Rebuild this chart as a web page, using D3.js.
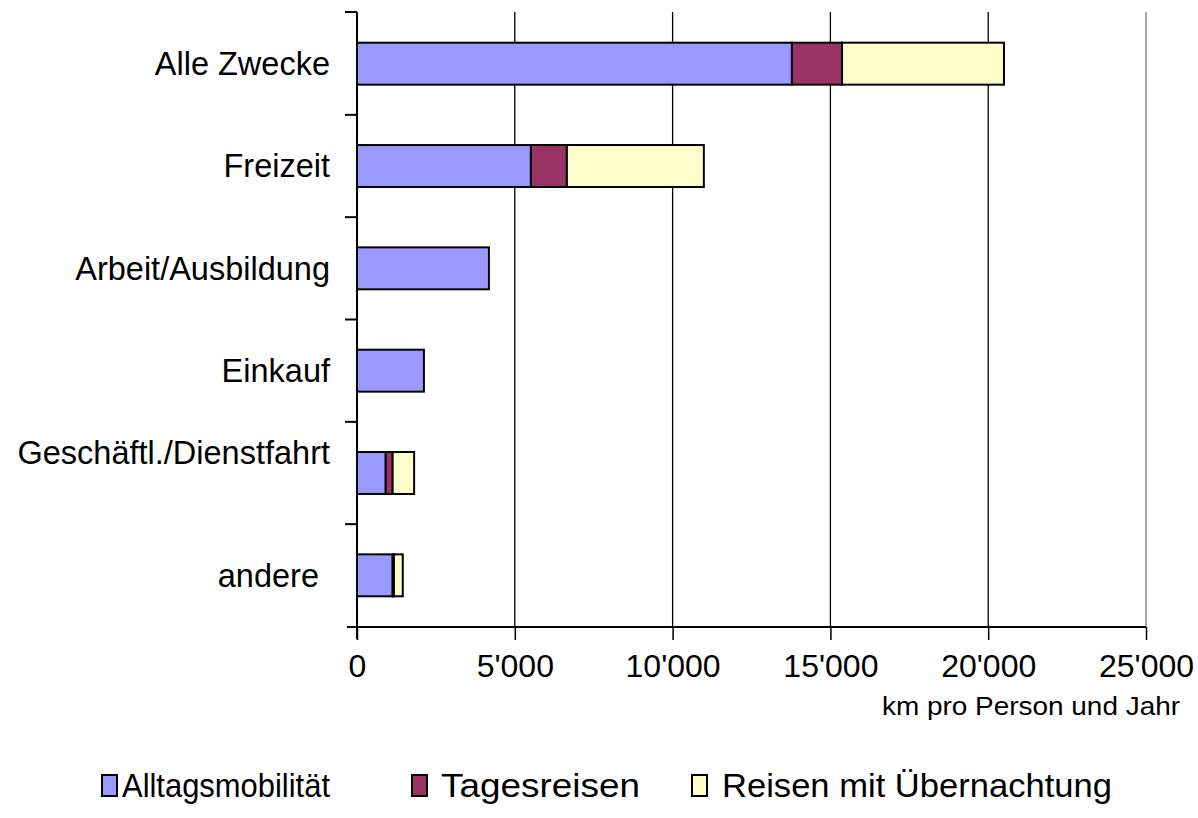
<!DOCTYPE html>
<html>
<head>
<meta charset="utf-8">
<script src="https://cdn.jsdelivr.net/npm/d3@7"></script>
<style>
body { margin: 0; background: #fff; }
text { font-family: "Liberation Sans", Arial, sans-serif; fill: #000; }
</style>
</head>
<body>
<svg id="chart" width="1198" height="818"></svg>
<script>
// data
var categories = ["Alle Zwecke", "Freizeit", "Arbeit/Ausbildung", "Einkauf", "Geschäftl./Dienstfahrt", "andere"];
var seriesNames = ["Alltagsmobilität", "Tagesreisen", "Reisen mit Übernachtung"];
var alltag = [13780, 5510, 4180, 2120, 910, 1130];
var tages = [1590, 1140, 0, 0, 220, 40];
var reisen = [5130, 4340, 0, 0, 680, 280];
var xTicks = [0, 5000, 10000, 15000, 20000, 25000];
var colors = ["#9999ff", "#993366", "#ffffcc"];

var svg = d3.select("#chart"),
    margin = {top: 12, left: 357, right: 52, bottom: 191},
    width = 1198 - margin.left - margin.right,
    height = 818 - margin.top - margin.bottom,
    g = svg.append("g").attr("transform", "translate(" + margin.left + "," + margin.top + ")");

var rows = categories.map(function (c, i) {
    return {cat: c, Alltag: alltag[i], Tages: tages[i], Reisen: reisen[i]};
});
var stack = d3.stack().keys(["Alltag", "Tages", "Reisen"])(rows);

var x = d3.scaleLinear().domain([0, 25000]).range([0, width]);
var y = d3.scaleBand().domain(categories).range([0, height]).paddingInner(0.59).paddingOuter(0.3);

var fmt = function (d) { return d3.format(",")(d).replace(/,/g, "'"); };

// grid lines
g.selectAll(".grid")
    .data(xTicks.slice(1))
    .enter().append("line")
    .attr("x1", function (d) { return x(d); })
    .attr("x2", function (d) { return x(d); })
    .attr("y1", 0)
    .attr("y2", height)
    .attr("stroke", function (d) { return d === 25000 ? "#777" : "#000"; })
    .attr("stroke-width", 1.3);

// bars
g.selectAll(".layer")
    .data(stack)
    .enter().append("g")
    .attr("fill", function (d, i) { return colors[i]; })
    .selectAll("rect")
    .data(function (d) { return d.filter(function (v) { return v[1] > v[0]; }); })
    .enter().append("rect")
    .attr("x", function (d) { return x(d[0]); })
    .attr("y", function (d) { return y(d.data.cat); })
    .attr("width", function (d) { return x(d[1]) - x(d[0]); })
    .attr("height", y.bandwidth())
    .attr("stroke", "#000")
    .attr("stroke-width", 2);

// x axis
var xAxis = g.append("g")
    .attr("transform", "translate(0," + height + ")")
    .call(d3.axisBottom(x).tickValues(xTicks).tickFormat(fmt).tickSize(13).tickPadding(14));
xAxis.select(".domain").attr("stroke-width", 2).attr("d", "M-10,0H" + width);
xAxis.selectAll(".tick line").attr("stroke-width", 1.5);
xAxis.selectAll("text").attr("font-size", 32).style("font-family", "Liberation Sans, Arial, sans-serif");

// y axis: ticks sit between categories
var yAxis = g.append("g");
yAxis.append("line").attr("x1", 0).attr("x2", 0).attr("y1", 0).attr("y2", height + 12)
    .attr("stroke", "#000").attr("stroke-width", 2);
var step = y.step();
var boundary = function (i) {
    return i === 0 ? 0 : y(categories[i]) - y.paddingInner() * step / 2;
};
yAxis.selectAll(".ytick")
    .data(d3.range(categories.length))
    .enter().append("line")
    .attr("x1", -12).attr("x2", 0)
    .attr("y1", boundary)
    .attr("y2", boundary)
    .attr("stroke", "#000").attr("stroke-width", 2);

// category labels
var labelShift = {"Geschäftl./Dienstfahrt": -20};
yAxis.selectAll(".ylab")
    .data(categories)
    .enter().append("text")
    .attr("x", function (d) { return d === "andere" ? -38 : -27; })
    .attr("y", function (d) { return y(d) + y.bandwidth() / 2 + (labelShift[d] || 0); })
    .attr("dy", "0.35em")
    .attr("text-anchor", "end")
    .attr("font-size", 32.5)
    .text(function (d) { return d; });

// axis title
svg.append("text")
    .attr("x", 1180)
    .attr("y", 715)
    .attr("text-anchor", "end")
    .attr("font-size", 26)
    .attr("textLength", 298)
    .attr("lengthAdjust", "spacingAndGlyphs")
    .text("km pro Person und Jahr");

// legend
var boxX = [102, 412, 692],
    textX = [122, 441, 722],
    textW = [208, 199, 390];
var legend = svg.selectAll(".legend")
    .data(seriesNames)
    .enter().append("g");
legend.append("rect")
    .attr("x", function (d, i) { return boxX[i]; })
    .attr("y", 775).attr("width", 15).attr("height", 21)
    .attr("fill", function (d, i) { return colors[i]; })
    .attr("stroke", "#000").attr("stroke-width", 2);
legend.append("text")
    .attr("x", function (d, i) { return textX[i]; })
    .attr("y", 797)
    .attr("font-size", 33)
    .attr("textLength", function (d, i) { return textW[i]; })
    .attr("lengthAdjust", "spacingAndGlyphs")
    .text(function (d) { return d; });
</script>
</body>
</html>
